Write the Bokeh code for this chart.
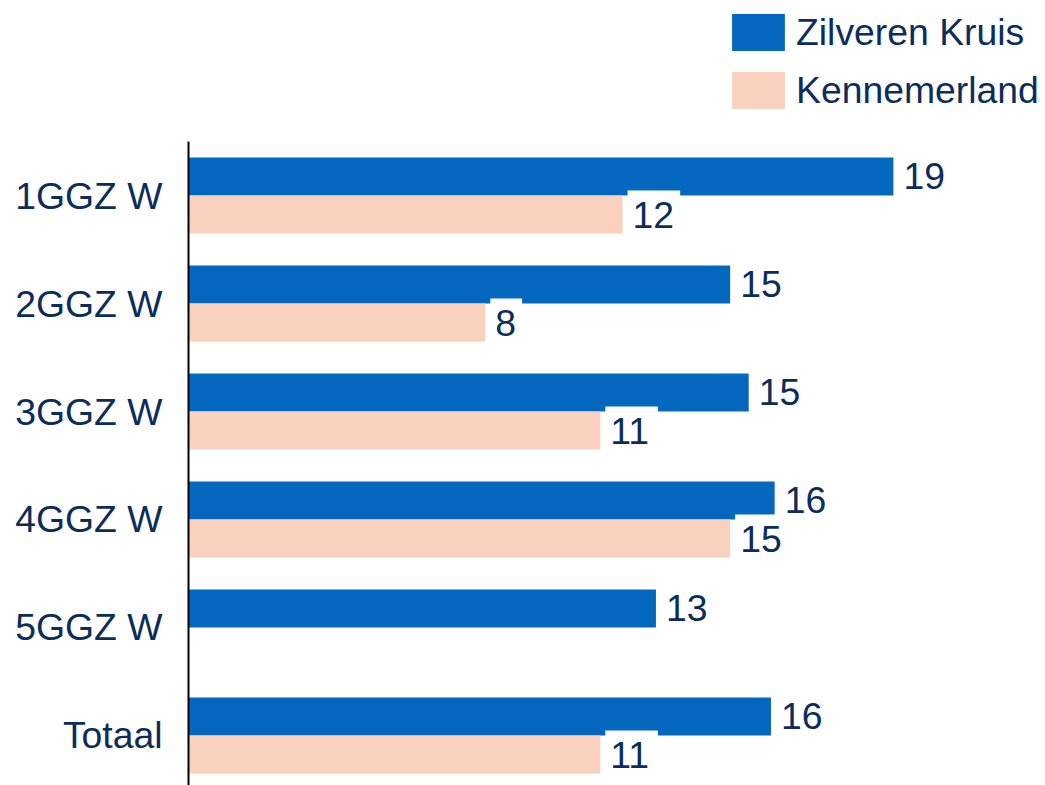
from bokeh.plotting import figure
from bokeh.models import Range1d, FixedTicker, ColumnDataSource, Legend, LegendItem
from bokeh.core.properties import value
from bokeh.embed import file_html
from bokeh.resources import INLINE

categories = ["1GGZ W", "2GGZ W", "3GGZ W", "4GGZ W", "5GGZ W", "Totaal"]
zilveren_kruis = [19.0, 14.6, 15.1, 15.8, 12.6, 15.7]
kennemerland = [11.7, 8.0, 11.1, 14.6, None, 11.1]
series_names = ["Zilveren Kruis", "Kennemerland"]

BLUE = "#0468BF"
PINK = "#FAD0BE"
TEXT = "#0C2D5B"
FONT = value("Liberation Sans")
FS = "28pt"
BAR_H = 0.352

W, H = 1045, 785
LEFT = 188
X_END = 23.1
PXU = (W - LEFT) / X_END  # pixels per value unit

idx = list(range(len(categories)))

zk_src = ColumnDataSource(dict(
    y=[i - BAR_H / 2 for i in idx],
    v=zilveren_kruis,
    label=[f"{round(v)}" for v in zilveren_kruis],
))
kp = [(i, v) for i, v in zip(idx, kennemerland) if v is not None]
km_labels = [f"{round(v)}" for _, v in kp]
box_w = [len(s) * 20.8 + 11 for s in km_labels]
km_src = ColumnDataSource(dict(
    y=[i + BAR_H / 2 for i, _ in kp],
    v=[v for _, v in kp],
    label=km_labels,
    bw=box_w,
    bx=[v + (5 + bw / 2) / PXU for (_, v), bw in zip(kp, box_w)],
))

p = figure(width=W, height=H, output_backend="svg", toolbar_location=None,
           x_range=Range1d(0, X_END), y_range=Range1d(5.463, -1.8056),
           min_border_left=LEFT, min_border_top=0, min_border_right=0, min_border_bottom=0)
p.outline_line_color = None
p.grid.visible = False
p.xaxis.visible = False
p.background_fill_color = "white"
p.border_fill_color = "white"

r_zk = p.hbar(y="y", left=0, right="v", height=BAR_H, source=zk_src,
              fill_color=BLUE, line_color=None)
r_km = p.hbar(y="y", left=0, right="v", height=BAR_H, source=km_src,
              fill_color=PINK, line_color=None)

# white label backgrounds for the Kennemerland values
p.rect(x="bx", y="y", width="bw", height=48, width_units="screen", height_units="screen",
       source=km_src, fill_color="white", line_color=None)

p.text(x="v", y="y", text="label", source=km_src, x_offset=10,
       text_font=FONT, text_font_size=FS, text_color=TEXT,
       text_baseline="middle", text_align="left")
p.text(x="v", y="y", text="label", source=zk_src, x_offset=10,
       text_font=FONT, text_font_size=FS, text_color=TEXT,
       text_baseline="middle", text_align="left")

ax = p.yaxis[0]
ax.ticker = FixedTicker(ticks=idx)
ax.bounds = (-0.5, 5.463)
ax.major_label_overrides = {i: c for i, c in zip(idx, categories)}
ax.major_tick_line_color = None
ax.minor_tick_line_color = None
ax.axis_line_color = "black"
ax.axis_line_width = 2
ax.major_label_standoff = 20
ax.major_label_text_font = "Liberation Sans"
ax.major_label_text_font_size = FS
ax.major_label_text_color = TEXT

legend = Legend(items=[LegendItem(label=series_names[0], renderers=[r_zk]),
                       LegendItem(label=series_names[1], renderers=[r_km])],
                location=(537, 672))
legend.glyph_width = 66
legend.glyph_height = 46
legend.label_height = 46
legend.label_standoff = 5
legend.spacing = 12
legend.padding = 0
legend.margin = 0
legend.border_line_color = None
legend.background_fill_alpha = 0
legend.label_text_font = "Liberation Sans"
legend.label_text_font_size = FS
legend.label_text_color = TEXT
p.add_layout(legend)

open("out.html", "w").write(file_html(p, INLINE))
